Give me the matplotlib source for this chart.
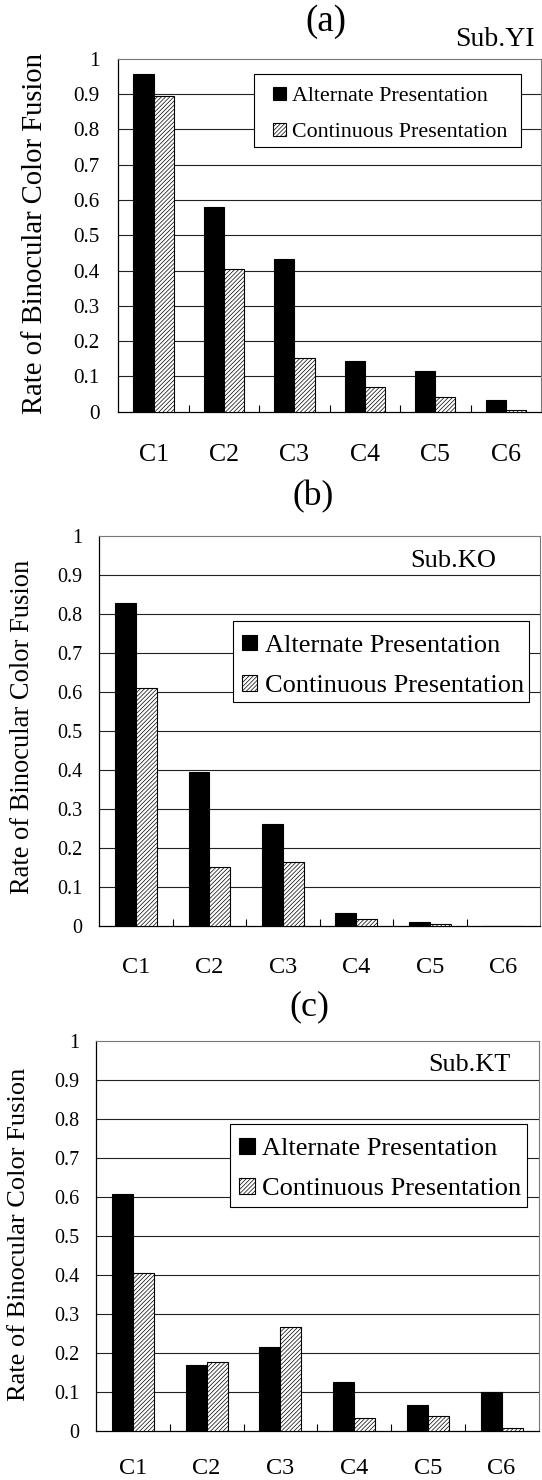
import matplotlib
matplotlib.use('Agg')
import matplotlib.pyplot as plt
from matplotlib.patches import Rectangle
from matplotlib.legend_handler import HandlerPatch
import numpy as np

plt.rcParams['font.family'] = ['Liberation Serif', 'DejaVu Serif']
plt.rcParams['hatch.linewidth'] = 0.5

# ---------------- data ----------------
categories = ['C1', 'C2', 'C3', 'C4', 'C5', 'C6']
series_names = ['Alternate Presentation', 'Continuous Presentation']
yi_alternate = [0.958, 0.579, 0.433, 0.144, 0.116, 0.033]
yi_continuous = [0.895, 0.403, 0.151, 0.070, 0.042, 0.005]
ko_alternate = [0.827, 0.394, 0.261, 0.034, 0.010, 0.0]
ko_continuous = [0.609, 0.150, 0.165, 0.017, 0.004, 0.0]
kt_alternate = [0.607, 0.169, 0.216, 0.126, 0.067, 0.100]
kt_continuous = [0.405, 0.176, 0.266, 0.033, 0.039, 0.008]
panel_letters = ['(a)', '(b)', '(c)']
subjects = ['Sub.YI', 'Sub.KO', 'Sub.KT']
y_tick_values = [0, 0.1, 0.2, 0.3, 0.4, 0.5, 0.6, 0.7, 0.8, 0.9, 1.0]
y_tick_labels = ['0', '0.1', '0.2', '0.3', '0.4', '0.5', '0.6', '0.7', '0.8', '0.9', '1']
y_label = 'Rate of Binocular Color Fusion'

W, H = 542, 1480
fig = plt.figure(figsize=(W / 100, H / 100), dpi=100)


def fx(px):
    return px / W


def fy(py):
    return 1 - py / H


# layout in pixels (left, right, top, bottom of the axes) and text positions
layouts = [
    dict(ax=(118.3, 541, 58.7, 411.7), title=(326, 22, 26.6), sub=(495, 40, 20),
         ylab=(34.6, 233, 20.6), ytick_fs=15.2, ytick_pad=13.7, xtick_fs=18.5, xtick_pad=23.5,
         leg=(254, 521, 74, 147), leg_fs=15.8, leg_bp=0.53, leg_hl=0.92, leg_tp=0.27, leg_ls=0.71),
    dict(ax=(99.3, 540, 535.7, 926), title=(312.8, 496.7, 25.6), sub=(453, 560.7, 19),
         ylab=(22.5, 727, 19.1), ytick_fs=14.5, ytick_pad=12.0, xtick_fs=17.5, xtick_pad=22,
         leg=(232.6, 529, 621, 702.3), leg_fs=19, leg_bp=0.47, leg_hl=0.47, leg_tp=0.28, leg_ls=0.63),
    dict(ax=(96, 538.5, 1041, 1430.7), title=(309, 1006.7, 25.8), sub=(469, 1065, 18.8),
         ylab=(18.7, 1234, 19.0), ytick_fs=14.5, ytick_pad=12.2, xtick_fs=17.5, xtick_pad=20,
         leg=(230, 527, 1124.3, 1206.7), leg_fs=19, leg_bp=0.47, leg_hl=0.47, leg_tp=0.28, leg_ls=0.63),
]

datasets = [(yi_alternate, yi_continuous), (ko_alternate, ko_continuous), (kt_alternate, kt_continuous)]


def square_patch(frac):
    def f(legend, orig_handle, xdescent, ydescent, width, height, fontsize):
        s = frac * fontsize
        return Rectangle((-xdescent + width - s, -ydescent + (height - s) / 2), s, s)
    return f


bar_w = 0.285
x = np.arange(len(categories))

for i, (lay, (alt, cont)) in enumerate(zip(layouts, datasets)):
    l, r, t, b = lay['ax']
    ax = fig.add_axes([fx(l), fy(b), fx(r) - fx(l), fy(t) - fy(b)])
    b1 = ax.bar(x - bar_w / 2, alt, bar_w, color='black', edgecolor='black', linewidth=0.8,
                label=series_names[0], zorder=3)
    b2 = ax.bar(x + bar_w / 2, cont, bar_w, color='white', edgecolor='black', linewidth=0.8,
                hatch='////////', label=series_names[1], zorder=3)
    ax.set_xlim(-0.5, len(categories) - 0.5)
    ax.set_ylim(0, 1)
    ax.set_yticks(y_tick_values)
    ax.set_yticklabels(y_tick_labels)
    ax.tick_params(axis='y', length=0, pad=lay['ytick_pad'], labelsize=lay['ytick_fs'])
    ax.set_xticks(x)
    ax.set_xticklabels(categories)
    ax.tick_params(axis='x', which='major', length=0, pad=lay['xtick_pad'], labelsize=lay['xtick_fs'])
    ax.set_xticks(x[:-1] + 0.5, minor=True)
    ax.tick_params(axis='x', which='minor', direction='in', length=4.8, width=0.8, color='black')
    for yv in y_tick_values[1:-1]:
        ax.axhline(yv, color='#222222', linewidth=0.8, zorder=1)
    ax.spines['left'].set_color('black')
    ax.spines['bottom'].set_color('black')
    ax.spines['left'].set_linewidth(0.9)
    ax.spines['bottom'].set_linewidth(0.9)
    for s in ('top', 'right'):
        ax.spines[s].set_color('#777777')
        ax.spines[s].set_linewidth(0.8)

    ax.set_ylabel(y_label, fontsize=lay['ylab'][2], va='center', ha='center')
    ax.yaxis.set_label_coords(fx(lay['ylab'][0]), fy(lay['ylab'][1]), transform=fig.transFigure)

    fig.text(fx(lay['title'][0]), fy(lay['title'][1]), panel_letters[i], fontsize=lay['title'][2],
             ha='center', va='center')
    fig.text(fx(lay['sub'][0]), fy(lay['sub'][1]), subjects[i], fontsize=lay['sub'][2],
             ha='center', va='center', zorder=5)

    lx0, lx1, ly0, ly1 = lay['leg']
    # legend box drawn as a framed white rectangle
    box = Rectangle((fx(lx0), fy(ly1)), fx(lx1) - fx(lx0), fy(ly0) - fy(ly1),
                    transform=fig.transFigure, facecolor='white', edgecolor='black',
                    linewidth=0.8, zorder=5, clip_on=False)
    ax.add_patch(box)
    leg = ax.legend(handles=[b1.patches[0], b2.patches[0]], labels=series_names, loc='upper left',
                    bbox_to_anchor=(fx(lx0), fy(ly1), fx(lx1) - fx(lx0), fy(ly0) - fy(ly1)),
                    bbox_transform=fig.transFigure, mode='expand', borderaxespad=0,
                    fontsize=lay['leg_fs'], borderpad=lay['leg_bp'], handlelength=lay['leg_hl'],
                    handleheight=0.7, handletextpad=lay['leg_tp'], labelspacing=lay['leg_ls'],
                    frameon=False,
                    handler_map={Rectangle: HandlerPatch(patch_func=square_patch(0.59))})
    leg.set_zorder(6)

fig.savefig('out.png', dpi=100)
